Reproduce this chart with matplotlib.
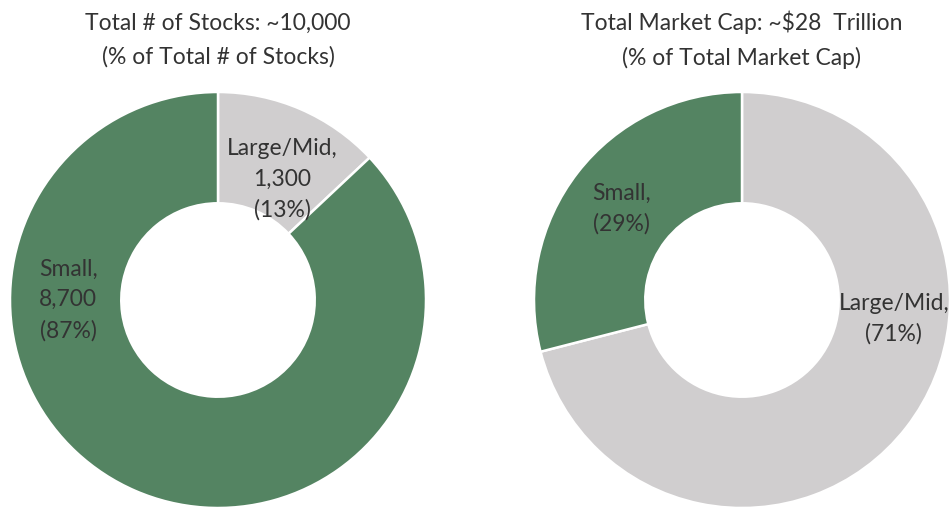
import matplotlib
matplotlib.use('Agg')
import matplotlib.pyplot as plt

FONT = 'Lato'

# data
segments = ['Large/Mid', 'Small']
stock_counts = [1300, 8700]
stock_share = [13, 87]
cap_share = [71, 29]

green = '#548462'
grey = '#d0cecf'
txt = '#333333'

fig = plt.figure(figsize=(9.51, 5.11), dpi=100)
W, H = 951, 511
R = 208


def donut(cx, cy, values):
    ax = fig.add_axes([(cx - R) / W, (H - cy - R) / H, 2 * R / W, 2 * R / H])
    ax.pie(values, colors=[grey, green], startangle=90, counterclock=False,
           radius=1, wedgeprops=dict(width=0.535, edgecolor='white', linewidth=1.8))
    ax.set_xlim(-1, 1)
    ax.set_ylim(-1, 1)
    ax.set_aspect('equal')
    ax.axis('off')
    return ax


ax1 = donut(218, 300, stock_share)
ax2 = donut(742, 300, cap_share)

kw = dict(ha='center', va='center', color=txt, fontsize=16.5, family=FONT,
          linespacing=1.55)
ax1.text(0.31, 0.58, f'{segments[0]},\n{stock_counts[0]:,}\n({stock_share[0]}%)', **kw)
ax1.text(-0.72, 0.0, f'{segments[1]},\n{stock_counts[1]:,}\n({stock_share[1]}%)', **kw)
ax2.text(-0.58, 0.44, f'{segments[1]},\n({cap_share[1]}%)', **kw)
ax2.text(0.73, -0.09, f'{segments[0]},\n({cap_share[0]}%)', **kw)

tkw = dict(ha='center', va='center', color=txt, fontsize=16.5, family=FONT,
           linespacing=1.7)
fig.text(218 / W, 1 - 40 / H, 'Total # of Stocks: ~10,000\n(% of Total # of Stocks)', **tkw)
fig.text(742 / W, 1 - 40 / H, 'Total Market Cap: ~$28  Trillion\n(% of Total Market Cap)', **tkw)

fig.savefig('out.png', dpi=100, facecolor='white')
